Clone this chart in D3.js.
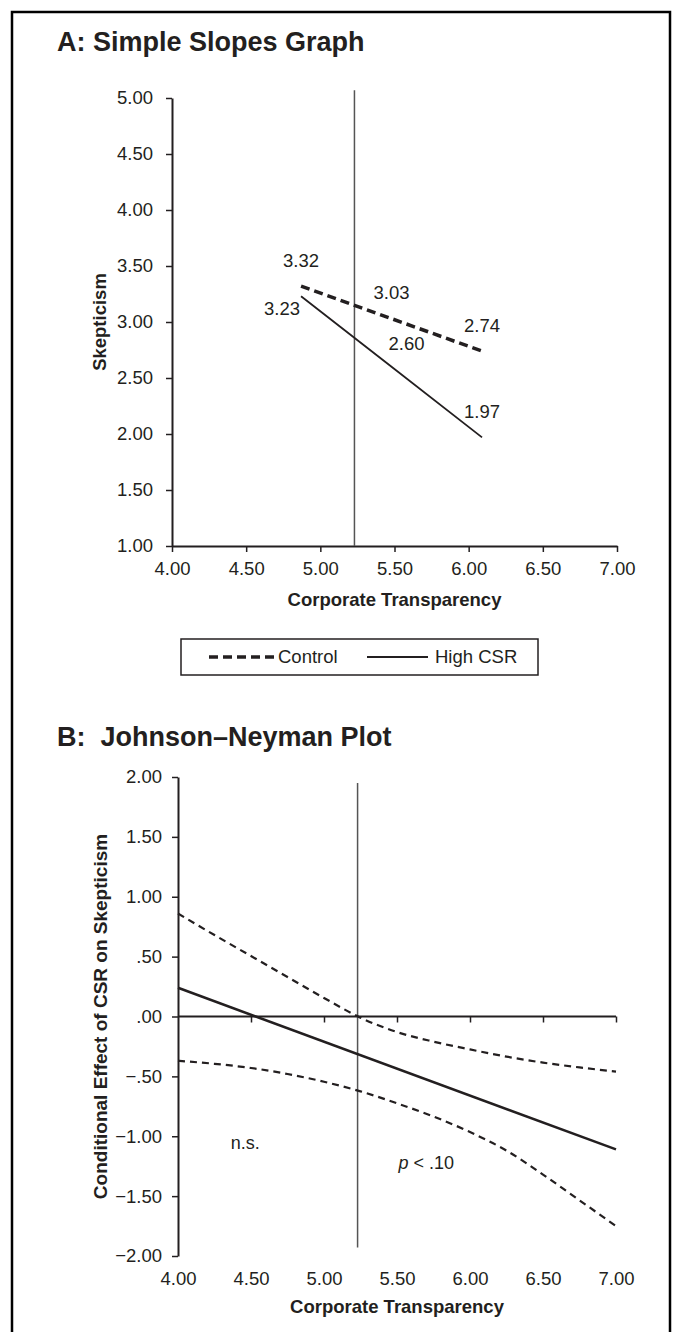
<!DOCTYPE html>
<html>
<head>
<meta charset="utf-8">
<script src="https://cdn.jsdelivr.net/npm/d3@7/dist/d3.min.js"></script>
<style>
  body { margin: 0; background: #fff; }
  svg text { font-family: "Liberation Sans", Arial, sans-serif; fill: #231f20; }
</style>
</head>
<body>
<svg id="chart" width="682" height="1332"></svg>
<script>
// --- Data: panel A (simple slopes at -1SD / mean / +1SD) ---
const slopeX = [4.87, 5.48, 6.09];
const controlVals = [3.32, 3.03, 2.74];
const highCsrVals = [3.23, 2.60, 1.97];
const slopeYTicks = [1.00, 1.50, 2.00, 2.50, 3.00, 3.50, 4.00, 4.50, 5.00];
const xTicks = [4.00, 4.50, 5.00, 5.50, 6.00, 6.50, 7.00];
const jnPoint = 5.23;

// --- Data: panel B (Johnson-Neyman) ---
const jnX     = [4.00, 4.25, 4.50, 4.75, 5.00, 5.25, 5.50, 5.75, 6.00, 6.25, 6.50, 6.75, 7.00];
const jnUpper = [0.86, 0.68, 0.505, 0.33, 0.155, -0.01, -0.13, -0.21, -0.275, -0.335, -0.385, -0.425, -0.46];
const jnLower = [-0.37, -0.395, -0.43, -0.48, -0.545, -0.625, -0.725, -0.835, -0.965, -1.12, -1.32, -1.535, -1.75];
const effectX = [4.00, 7.00];
const effectVals = [0.24, -1.11];
const jnYTicks = [-2.00, -1.50, -1.00, -0.50, 0.00, 0.50, 1.00, 1.50, 2.00];

const ink = '#231f20';
const svg = d3.select('#chart');

// outer frame
svg.append('rect').attr('x', 12).attr('y', 12).attr('width', 658).attr('height', 1340)
  .attr('fill', 'none').attr('stroke', '#000').attr('stroke-width', 2.5);

function styleAxis(g) {
  g.select('.domain').attr('stroke', ink).attr('stroke-width', 2);
  g.selectAll('.tick line').attr('stroke', ink).attr('stroke-width', 1.5);
  g.selectAll('.tick text').attr('font-size', 18.5).attr('fill', ink)
    .style('font-family', '"Liberation Sans", Arial, sans-serif');
}

function jnFormat(v) {
  let s = Math.abs(v).toFixed(2);
  if (Math.abs(v) < 1) s = s.slice(1);
  return (v < 0 ? '\u2212' : '') + s;
}

// ================= Panel A =================
svg.append('text').attr('x', 57).attr('y', 51)
  .attr('font-size', 27).attr('font-weight', 'bold').text('A: Simple Slopes Graph');

const xA = d3.scaleLinear().domain([4, 7]).range([172, 617]);
const yA = d3.scaleLinear().domain([1, 5]).range([546, 98]);

svg.append('g').attr('transform', `translate(0,${yA(1)})`)
  .call(d3.axisBottom(xA).tickValues(xTicks).tickFormat(d3.format('.2f')).tickSize(6).tickPadding(10).tickSizeOuter(0))
  .call(styleAxis);
svg.append('g').attr('transform', `translate(${xA(4)},0)`)
  .call(d3.axisLeft(yA).tickValues(slopeYTicks).tickFormat(d3.format('.2f')).tickSize(6).tickPadding(13).tickSizeOuter(0))
  .call(styleAxis);

svg.append('line')
  .attr('x1', xA(jnPoint)).attr('x2', xA(jnPoint))
  .attr('y1', yA(5.07)).attr('y2', yA(1))
  .attr('stroke', '#555').attr('stroke-width', 1.5);

const lineA = d3.line().x((d, i) => xA(slopeX[i])).y(d => yA(d));
svg.append('path').datum(highCsrVals).attr('d', lineA)
  .attr('fill', 'none').attr('stroke', ink).attr('stroke-width', 1.8);
svg.append('path').datum(controlVals).attr('d', lineA)
  .attr('fill', 'none').attr('stroke', ink).attr('stroke-width', 3.5)
  .attr('stroke-dasharray', '9,5');

// value labels, nudged off the points
const labelNudge = { 'csr0': [-19, 12], 'csr1': [15, -23] };
[['ctl', controlVals], ['csr', highCsrVals]].forEach(([key, vals]) => {
  vals.forEach((v, i) => {
    const off = labelNudge[key + i] || [0, -26];
    svg.append('text')
      .attr('x', xA(slopeX[i]) + off[0]).attr('y', yA(v) + off[1])
      .attr('text-anchor', 'middle').attr('dy', '0.35em')
      .attr('font-size', 18.5).text(v.toFixed(2));
  });
});

svg.append('text').attr('x', (xA(4) + xA(7)) / 2).attr('y', 600).attr('dy', '0.35em')
  .attr('text-anchor', 'middle').attr('font-size', 18.5).attr('font-weight', 'bold')
  .text('Corporate Transparency');
svg.append('text').attr('transform', `translate(100,${(yA(1) + yA(5)) / 2}) rotate(-90)`)
  .attr('dy', '0.35em').attr('text-anchor', 'middle')
  .attr('font-size', 18.5).attr('font-weight', 'bold').text('Skepticism');

// legend
const lg = svg.append('g').attr('transform', 'translate(181,639)');
lg.append('rect').attr('width', 357).attr('height', 36)
  .attr('fill', '#fff').attr('stroke', ink).attr('stroke-width', 1.5);
lg.append('line').attr('x1', 28).attr('x2', 94).attr('y1', 18).attr('y2', 18)
  .attr('stroke', ink).attr('stroke-width', 3.5).attr('stroke-dasharray', '9,5');
lg.append('text').attr('x', 97).attr('y', 18).attr('dy', '0.35em').attr('font-size', 18.5).text('Control');
lg.append('line').attr('x1', 186).attr('x2', 247).attr('y1', 18).attr('y2', 18)
  .attr('stroke', ink).attr('stroke-width', 1.8);
lg.append('text').attr('x', 254).attr('y', 18).attr('dy', '0.35em').attr('font-size', 18.5).text('High CSR');

// ================= Panel B =================
svg.append('text').attr('x', 57).attr('y', 746).attr('xml:space', 'preserve')
  .attr('font-size', 27).attr('font-weight', 'bold').text('B:\u00a0 Johnson\u2013Neyman Plot');

const xB = d3.scaleLinear().domain([4, 7]).range([178, 616]);
const yB = d3.scaleLinear().domain([-2, 2]).range([1256, 777]);

// zero line with ticks
svg.append('g').attr('transform', `translate(0,${yB(0)})`)
  .call(d3.axisBottom(xB).tickValues(xTicks.slice(1)).tickFormat('').tickSize(6).tickSizeOuter(0))
  .call(styleAxis)
  .call(g => g.select('.domain').attr('d', `M${xB(4)},0H${xB(7)}`));
// labels along the bottom
svg.append('g').attr('transform', `translate(0,${yB(-2)})`)
  .call(d3.axisBottom(xB).tickValues(xTicks).tickFormat(d3.format('.2f')).tickSize(0).tickPadding(15.5))
  .call(styleAxis)
  .call(g => g.select('.domain').remove());
svg.append('g').attr('transform', `translate(${xB(4)},0)`)
  .call(d3.axisLeft(yB).tickValues(jnYTicks).tickFormat(jnFormat).tickSize(6).tickPadding(10).tickSizeOuter(0))
  .call(styleAxis);

svg.append('line')
  .attr('x1', xB(jnPoint)).attr('x2', xB(jnPoint))
  .attr('y1', yB(1.95)).attr('y2', yB(-1.93))
  .attr('stroke', '#555').attr('stroke-width', 1.5);

const bandLine = d3.line().x((d, i) => xB(jnX[i])).y(d => yB(d)).curve(d3.curveMonotoneX);
[jnUpper, jnLower].forEach(vals => {
  svg.append('path').datum(vals).attr('d', bandLine)
    .attr('fill', 'none').attr('stroke', ink).attr('stroke-width', 2.2)
    .attr('stroke-dasharray', '7,5');
});
svg.append('path').datum(effectVals)
  .attr('d', d3.line().x((d, i) => xB(effectX[i])).y(d => yB(d)))
  .attr('fill', 'none').attr('stroke', ink).attr('stroke-width', 2.5);

svg.append('text').attr('x', xB(4.46)).attr('y', yB(-1.05)).attr('dy', '0.35em')
  .attr('text-anchor', 'middle').attr('font-size', 18).text('n.s.');
const pTxt = svg.append('text').attr('x', xB(5.51)).attr('y', yB(-1.22)).attr('dy', '0.35em')
  .attr('font-size', 18);
pTxt.append('tspan').attr('font-style', 'italic').text('p');
pTxt.append('tspan').text(' < .10');

svg.append('text').attr('x', (xB(4) + xB(7)) / 2).attr('y', 1307).attr('dy', '0.35em')
  .attr('text-anchor', 'middle').attr('font-size', 18.5).attr('font-weight', 'bold')
  .text('Corporate Transparency');
svg.append('text').attr('transform', `translate(100,${(yB(-2) + yB(2)) / 2}) rotate(-90)`)
  .attr('dy', '0.35em').attr('text-anchor', 'middle')
  .attr('font-size', 19).attr('font-weight', 'bold').text('Conditional Effect of CSR on Skepticism');
</script>
</body>
</html>
